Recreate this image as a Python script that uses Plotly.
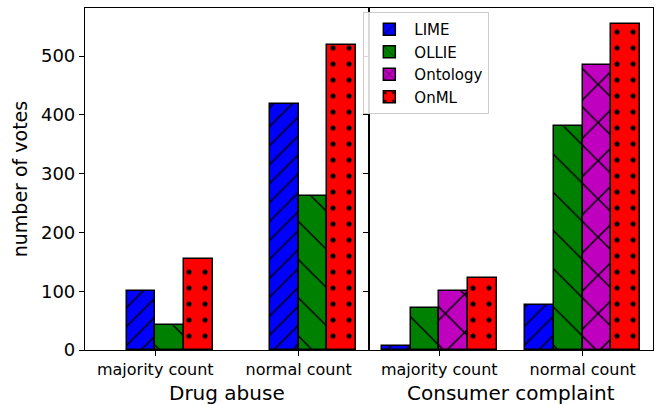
import plotly.graph_objects as go

# ---- data ----
categories = ["majority count", "normal count"]
methods = ["LIME", "OLLIE", "Ontology", "OnML"]
drug_lime = [100, 418]
drug_ollie = [43, 262]
drug_onml = [155, 519]
cons_lime = [6, 77]
cons_ollie = [71, 381]
cons_ontology = [100, 485]
cons_onml = [122, 554]
panel_titles = ["Drug abuse", "Consumer complaint"]
y_ticks = [0, 100, 200, 300, 400, 500]

# ---- styles ----
colors = {"LIME": "#0000ff", "OLLIE": "#008000", "Ontology": "#bf00bf", "OnML": "#ff0000"}
patterns = {
    "LIME": dict(shape="/", size=13.4, solidity=0.11),
    "OLLIE": dict(shape="\\", size=27, solidity=0.055),
    "Ontology": dict(shape="x", size=27, solidity=0.11),
    "OnML": dict(shape=".", size=16, solidity=0.08),
}
bar_w = 0.2
FONT = "DejaVu Sans"

fig = go.Figure()

def add_bars(name, values, offset, xa, ya, show):
    xs = [i + offset * bar_w for i in range(len(categories))]
    p = patterns[name]
    fig.add_trace(go.Bar(
        x=xs, y=values, width=bar_w, name=name, xaxis=xa, yaxis=ya,
        showlegend=show, legendgroup=name,
        marker=dict(
            color=colors[name],
            line=dict(color="black", width=1.5),
            pattern=dict(shape=p["shape"], size=p["size"], solidity=p["solidity"],
                         fillmode="overlay", fgcolor="black", fgopacity=1),
        ),
    ))

# left panel (Drug abuse)
add_bars("LIME", drug_lime, -0.5, "x", "y", False)
add_bars("OLLIE", drug_ollie, 0.5, "x", "y", False)
add_bars("OnML", drug_onml, 1.5, "x", "y", False)
# right panel (Consumer complaint)
add_bars("LIME", cons_lime, -1.5, "x2", "y2", True)
add_bars("OLLIE", cons_ollie, -0.5, "x2", "y2", True)
add_bars("Ontology", cons_ontology, 0.5, "x2", "y2", True)
add_bars("OnML", cons_onml, 1.5, "x2", "y2", True)

ymax = 1.05 * max(drug_lime + drug_ollie + drug_onml + cons_lime + cons_ollie + cons_ontology + cons_onml)

xcommon = dict(
    range=[-0.49, 1.49], tickmode="array", tickvals=list(range(len(categories))),
    ticktext=categories, ticks="outside", ticklen=5, tickwidth=1.2, tickcolor="black",
    showline=True, linecolor="black", linewidth=1.2, mirror=True, showgrid=False,
    zeroline=False, tickfont=dict(family=FONT, size=16, color="black"),
)
ycommon = dict(
    range=[0, ymax], tickmode="array", tickvals=y_ticks, ticks="outside", ticklen=5,
    tickwidth=1.2, tickcolor="black", showline=True, linecolor="black", linewidth=1.2,
    mirror=True, showgrid=False, zeroline=False,
    tickfont=dict(family=FONT, size=18, color="black"),
)

fig.update_layout(
    width=657, height=405,
    margin=dict(l=85, r=4, t=8, b=55),
    paper_bgcolor="white", plot_bgcolor="white",
    barmode="overlay", bargap=0,
    xaxis=dict(domain=[0, 0.5], anchor="y", **xcommon),
    xaxis2=dict(domain=[0.5, 1], anchor="y2", **xcommon),
    yaxis=dict(anchor="x", **ycommon),
    yaxis2=dict(anchor="x2", matches="y", showticklabels=False, **ycommon),
    font=dict(family=FONT, color="black"),
    legend=dict(
        x=0.49, y=0.988, xanchor="left", yanchor="top",
        bgcolor="rgba(255,255,255,0.85)", bordercolor="#cccccc", borderwidth=1,
        font=dict(family=FONT, size=15, color="black"), traceorder="normal",
        tracegroupgap=3, itemwidth=40,
    ),
    annotations=[
        dict(text=panel_titles[0], xref="x domain", yref="paper", x=0.5, y=-0.126,
             xanchor="center", yanchor="middle", showarrow=False,
             font=dict(family=FONT, size=20, color="black")),
        dict(text=panel_titles[1], xref="x2 domain", yref="paper", x=0.5, y=-0.126,
             xanchor="center", yanchor="middle", showarrow=False,
             font=dict(family=FONT, size=20, color="black")),
        dict(text="number of votes", xref="paper", yref="paper", x=-0.114, y=0.5,
             xanchor="center", yanchor="middle", showarrow=False, textangle=-90,
             font=dict(family=FONT, size=19, color="black")),
    ],
)

fig.write_html("out.html", config={"displayModeBar": False},
               post_script="document.body.style.margin='0';document.body.style.overflow='hidden';")
